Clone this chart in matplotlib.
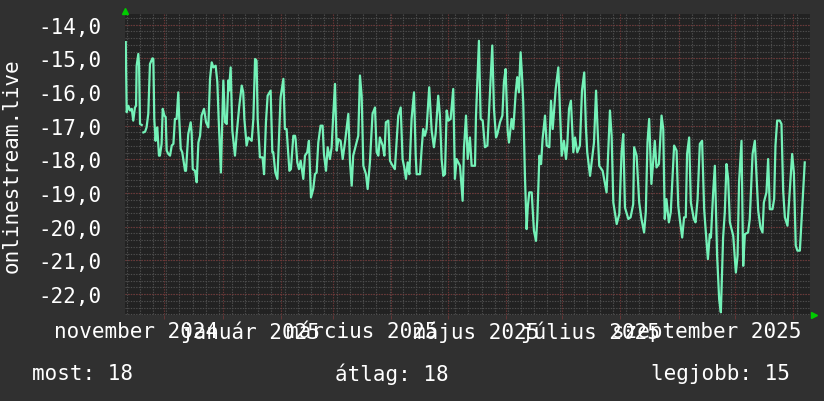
import numpy as np
import pandas as pd
import matplotlib
matplotlib.use("Agg")
import matplotlib.pyplot as plt

# days since 2024-11-10 and the plotted value
start_date = pd.Timestamp("2024-11-10")

days = [
    0.4, 0.9, 1.8, 2.7, 3.6, 4.4, 5.3, 5.9, 6.2, 7.1, 7.5, 8.0, 8.9, 9.3, 9.8,
    10.7, 11.5, 12.4, 13.3, 14.6, 15.1, 15.6, 16.3, 16.9, 17.2, 18.1, 18.6, 19.5,
    20.1, 21.0, 21.7, 22.2, 23.1, 24.0, 24.9, 25.8, 26.6, 27.5, 28.4, 28.9, 29.7,
    30.5, 32.0, 32.5, 33.7, 35.0, 35.5, 36.1, 37.3, 38.2, 39.1, 40.0, 40.8, 42.1,
    43.2, 44.4, 45.3, 46.2, 47.1, 48.3, 49.2, 49.9, 51.1, 52.4, 53.3, 54.2, 55.1,
    55.4, 56.3, 57.2, 58.6, 59.5, 60.9, 62.2, 63.0, 63.6, 64.8, 65.7, 67.5, 68.4,
    69.3, 70.1, 70.7, 71.9, 73.3, 74.1, 75.1, 76.0, 77.6, 78.5, 79.0, 80.1, 81.2,
    82.9, 84.4, 85.2, 86.1, 87.6, 88.4, 89.7, 90.6,
    90.9, 91.8, 92.7, 93.6, 95.0, 95.9, 97.1, 98.0, 99.1, 100.3, 101.2, 102.1,
    103.0, 104.2, 105.3, 106.0, 107.1, 108.0, 109.2, 110.1, 111.0, 111.9, 112.8,
    113.7, 114.9, 116.0, 117.2, 119.0, 119.9, 120.8, 121.6, 124.3, 125.2, 126.1,
    127.0, 128.4, 129.3, 130.5, 131.9, 133.2, 134.1, 135.0, 135.8, 137.3, 138.2,
    139.0, 140.3, 141.2, 142.1, 143.8, 145.6, 146.9, 147.9, 148.8, 149.7, 150.6,
    151.5, 152.7, 154.0, 154.9, 155.4, 157.2, 158.0, 158.9, 159.8, 160.7, 162.1,
    163.4, 164.6, 165.5, 166.9, 167.8, 168.7, 169.6, 170.5, 171.4, 172.3, 173.5,
    174.9, 175.8, 176.7, 178.5, 179.9, 180.6,
    181.7, 182.6, 183.8, 184.7, 186.5, 187.0, 188.6, 189.5, 190.6, 191.8, 193.1,
    194.0, 194.8, 195.7, 196.6, 197.7, 198.4, 199.8, 201.1, 201.9, 202.8, 203.9,
    204.6, 206.0, 206.9, 208.2, 209.0, 209.9, 210.8, 211.5, 212.2, 213.1, 214.0,
    214.6, 215.4, 216.7, 217.9, 219.0, 219.7, 220.8, 221.7, 222.5, 223.8, 224.7,
    226.1, 227.0, 227.9, 229.5, 230.9, 231.8, 232.7, 233.9, 235.0, 235.7, 236.6,
    237.6, 238.9, 239.8, 241.0, 242.4, 243.5, 244.7, 245.6, 246.3, 247.8, 249.2,
    249.9, 251.0, 251.7, 252.7, 254.5, 256.6, 258.4, 259.3, 260.2, 262.0, 263.4,
    264.6, 265.5, 266.4, 268.2, 269.4, 270.8,
    271.3, 272.6, 274.0, 275.2, 276.6, 277.5, 278.4, 279.3, 280.5, 282.3, 283.2,
    284.5, 285.9, 286.8, 287.6, 288.5, 289.8, 290.8, 292.6, 293.9, 294.8, 295.6,
    296.9, 297.9, 298.8, 299.5, 300.6, 301.5, 303.1, 304.0, 305.1, 306.3, 307.5,
    308.6, 309.5, 310.6, 311.6, 312.2, 313.4, 314.3, 315.5, 316.6, 317.5, 318.7,
    319.6, 320.5, 321.4, 322.3, 324.1, 325.5, 326.4, 327.2, 328.5, 329.4, 330.3,
    332.0, 332.9, 334.4, 335.6, 336.5, 337.4, 338.6, 339.7, 340.4, 341.8, 342.7,
    343.6, 345.0, 345.9, 346.6, 347.5, 348.9, 349.8, 350.7, 351.6, 353.0, 355.5,
    356.4, 357.4, 358.3, 359.6, 361.0, 362.2,
]

values = [
    -14.52, -16.60, -16.41, -16.55, -16.50, -16.85, -16.46, -16.41, -15.22, -14.87,
    -15.22, -16.95, -16.98, np.nan, -17.20,
    -17.18, -17.05, -16.65, -15.17, -15.00, -15.02, -16.80, -17.45, -17.10, -17.05,
    -17.89, -17.89, -17.54, -16.50, -16.70, -16.75, -17.74, -17.84, -17.89, -17.59,
    -17.54, -16.80, -16.80, -16.01, -16.80, -17.69, -17.79, -18.34, -18.34, -17.25,
    -16.90, -17.20, -18.29, -18.34, -18.68, -17.50, -17.30, -16.70, -16.50, -16.90,
    -17.05, -15.61, -15.12, -15.27, -15.22, -15.71, -16.80, -18.39, -15.66, -16.90,
    -16.95, -15.66, -15.96, -15.27, -17.15, -17.89, -17.25, -16.41, -15.81, -16.01,
    -16.80, -17.59, -17.35, -17.45, -16.80, -15.02, -15.07, -16.80, -17.94, -17.94,
    -18.44, -16.90, -16.11, -15.96, -17.79, -17.79, -18.39, -18.58, -16.16, -15.61,
    -17.10, -17.10, -18.34, -18.29, -17.30, -17.30,
    -17.40, -18.09, -18.29, -18.04, -18.58, -17.89, -17.79, -17.45, -19.13, -18.88,
    -18.44, -18.39, -17.50, -17.00, -17.00, -17.84, -18.34, -17.64, -17.99, -17.64,
    -16.65, -15.76, -17.74, -17.40, -17.45, -17.99, -17.50, -16.65, -18.09, -18.78,
    -17.89, -17.30, -15.51, -16.11, -18.19, -18.44, -18.88, -18.09, -16.65, -16.46,
    -17.79, -17.89, -17.35, -17.59, -17.89, -16.90, -16.85, -18.04, -18.14, -18.29,
    -16.70, -16.46, -17.99, -18.24, -18.58, -18.09, -18.44, -16.80, -16.01, -17.89,
    -18.44, -18.44, -17.74, -17.10, -17.30, -17.10, -15.86, -17.15, -17.64, -17.25,
    -16.11, -16.70, -17.99, -18.49, -18.44, -16.55, -16.85, -16.80, -15.91, -18.58,
    -17.99, -18.19, -19.23, -17.69,
    -16.70, -17.99, -17.35, -18.19, -18.19, -16.75, -14.48, -16.80, -16.85, -17.64,
    -17.59, -16.55, -15.61, -14.62, -16.50, -17.35, -17.25, -16.90, -16.70, -15.71,
    -15.32, -17.15, -17.50, -16.80, -17.10, -16.01, -15.56, -16.01, -14.82, -15.47,
    -16.31, -18.49, -20.07, -19.43, -18.98, -18.98, -20.12, -20.42, -19.77, -17.89,
    -18.14, -17.40, -16.70, -17.59, -17.64, -16.26, -17.10, -15.91, -15.27, -16.60,
    -17.89, -17.45, -17.99, -17.54, -16.50, -16.26, -17.79, -17.35, -17.79, -17.59,
    -15.96, -15.42, -17.05, -17.79, -18.49, -17.84, -17.50, -15.96, -16.95, -18.19,
    -18.34, -18.98, -16.55, -17.30, -19.28, -19.92, -19.62, -17.79, -17.25, -19.43,
    -19.77, -19.72, -19.33,
    -17.64, -17.89, -19.28, -19.77, -20.17, -19.57, -17.50, -16.80, -18.73, -17.45,
    -18.24, -18.14, -16.70, -17.10, -19.77, -19.18, -19.87, -19.57, -17.59, -17.74,
    -19.38, -19.77, -20.32, -19.72, -19.72, -17.84, -17.35, -19.28, -19.77, -19.87,
    -19.18, -17.54, -17.45, -19.48, -20.17, -20.96, -20.22, -20.32, -18.98, -18.19,
    -20.86, -22.15, -22.54, -20.32, -19.57, -18.14, -18.58, -19.87, -20.27, -21.36,
    -20.86, -18.68, -17.45, -21.16, -20.22, -20.17, -19.77, -17.84, -17.45, -18.49,
    -19.52, -20.02, -20.17, -19.28, -18.98, -17.99, -19.48, -19.48, -19.18, -17.59,
    -16.85, -16.85, -16.95, -18.93, -19.72, -19.97, -17.84, -18.39, -20.56, -20.71,
    -20.71, -19.28, -18.09,
]

x_label_dates = ["2024-11-16", "2025-01-16", "2025-03-16",
                 "2025-05-16", "2025-07-16", "2025-09-16"]
x_labels = ["november 2024", "január 2025", "március 2025",
            "május 2025", "július 2025", "szeptember 2025"]

y_ticks = [-22, -21, -20, -19, -18, -17, -16, -15, -14]
y_labels = ["-22,0", "-21,0", "-20,0", "-19,0", "-18,0",
            "-17,0", "-16,0", "-15,0", "-14,0"]

legend_texts = ["most: 18", "átlag: 18", "legjobb: 15"]

fig_bg = "#303030"
plot_bg = "#222222"
line_color = "#74f2b8"
minor_grid = "#4e4e4e"
major_grid = "#6e3636"
text_color = "#ffffff"

plt.rcParams["font.family"] = ["DejaVu Sans Mono", "DejaVu Sans"]
plt.rcParams["font.size"] = 15

fig = plt.figure(figsize=(8.24, 4.02), dpi=100, facecolor=fig_bg)
ax = fig.add_axes([125 / 824, 86 / 402, 685 / 824, 301 / 402])
ax.set_facecolor(plot_bg)

x_end = 365
ax.set_xlim(0, x_end)
ax.set_ylim(-22.62, -13.685)

# weekly minor grid (mondays) and monthly major grid
mondays = (pd.date_range(start_date, periods=60, freq="W-MON") - start_date).days
mondays = [d for d in mondays if 0 < d < x_end]
month_starts = (pd.date_range("2024-12-01", "2025-11-01", freq="MS") - start_date).days

ax.vlines(mondays, -30, -10, colors=minor_grid, linewidth=0.8,
          linestyles=(0, (1.2, 1.2)), zorder=0.5)
ax.vlines(month_starts, -30, -10, colors=major_grid, linewidth=0.8,
          linestyles=(0, (1.2, 1.2)), zorder=0.6)

y_minor = np.arange(-22.6, -13.6, 0.2)
ax.hlines(y_minor, 0, x_end, colors=minor_grid, linewidth=0.8,
          linestyles=(0, (1.2, 1.2)), zorder=0.5)
ax.hlines(y_ticks, 0, x_end, colors=major_grid, linewidth=0.8,
          linestyles=(0, (1.2, 1.2)), zorder=0.6)

ax.plot(days, values, color=line_color, linewidth=1.6, zorder=3)

label_pos = (pd.to_datetime(x_label_dates) - start_date).days
ax.set_xticks(label_pos, x_labels)
ax.set_xticks(month_starts, minor=True)
ax.tick_params(axis="x", which="major", length=0, pad=4, colors=text_color)
ax.tick_params(axis="x", which="minor", length=3, color=major_grid)
ax.set_yticks(y_ticks, y_labels)
ax.tick_params(axis="y", which="major", length=0, pad=17, colors=text_color)

for s in ax.spines.values():
    s.set_visible(False)

# axis arrows
ax.plot([0], [1.0], marker="^", color="#00cc00", markersize=4,
        transform=ax.transAxes, clip_on=False)
ax.plot([1.0], [0.0], marker=">", color="#00cc00", markersize=4,
        transform=ax.transAxes, clip_on=False)
ax.lines[-2].set_data([0.0], [1.0 + 3 / 301])
ax.lines[-1].set_data([1.0 + 4 / 685], [0.0])

fig.text(12 / 824, 1 - 165.5 / 402, "onlinestream.live", rotation=90,
         ha="center", va="center", color=text_color)

legend_x = [32, 335, 651]
for lx, txt in zip(legend_x, legend_texts):
    fig.text(lx / 824, 1 - 374 / 402, txt, ha="left", va="center",
             color=text_color)

fig.savefig("out.png", dpi=100, facecolor=fig_bg)
plt.close(fig)
